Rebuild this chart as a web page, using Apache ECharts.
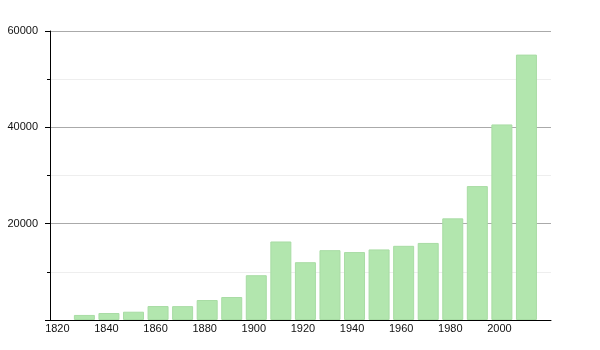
<!DOCTYPE html>
<html>
<head>
<meta charset="utf-8">
<script src="https://cdn.jsdelivr.net/npm/echarts@6/dist/echarts.min.js"></script>
<style>html,body{margin:0;padding:0;background:#fff}#c{width:600px;height:350px}</style>
</head>
<body>
<div id="c"></div>
<script>
const years = [1831,1841,1851,1861,1871,1881,1891,1901,1911,1921,1931,1941,1951,1961,1971,1981,1991,2001,2011];
const population = [1050,1450,1720,2900,2880,4150,4770,9300,16300,12000,14500,14100,14650,15400,16000,21100,27800,40600,55100];
const xTickLabels = [1820,1840,1860,1880,1900,1920,1940,1960,1980,2000];
const yTickLabels = [0,20000,40000,60000];

const chart = echarts.init(document.getElementById('c'), null, {renderer:'canvas'});
const font = "'Liberation Sans', Arial, Helvetica, sans-serif";
chart.setOption({
  animation:false,
  backgroundColor:'#fff',
  grid:{left:50,right:49,top:31,bottom:30,containLabel:false},
  xAxis:{
    type:'value',min:1817,max:2021,
    axisLine:{show:true,lineStyle:{color:'#000',width:1}},
    axisTick:{show:false},
    splitLine:{show:false},
    axisLabel:{customValues:xTickLabels,color:'#111',fontSize:11,fontFamily:font,margin:3,
      formatter:v=>String(v)}
  },
  yAxis:{
    type:'value',min:0,max:60000,interval:20000,
    axisLine:{show:true,lineStyle:{color:'#000',width:1}},
    axisTick:{show:true,length:5,lineStyle:{color:'#000'}},
    minorTick:{show:true,splitNumber:2,length:3,lineStyle:{color:'#000'}},
    splitLine:{show:true,lineStyle:{color:'#aaa',width:1}},
    minorSplitLine:{show:true,lineStyle:{color:'#eee',width:1}},
    axisLabel:{color:'#111',fontSize:11,fontFamily:font,margin:12,
      formatter:v=>yTickLabels.includes(v)&&v!==0?String(v):''}
  },
  series:[{
    type:'bar',
    data:years.map((y,i)=>[y,population[i]]),
    barWidth:21,
    itemStyle:{color:'#b2e6ae',borderColor:'#a8dca4',borderWidth:1}
  }]
});
</script>
</body>
</html>
